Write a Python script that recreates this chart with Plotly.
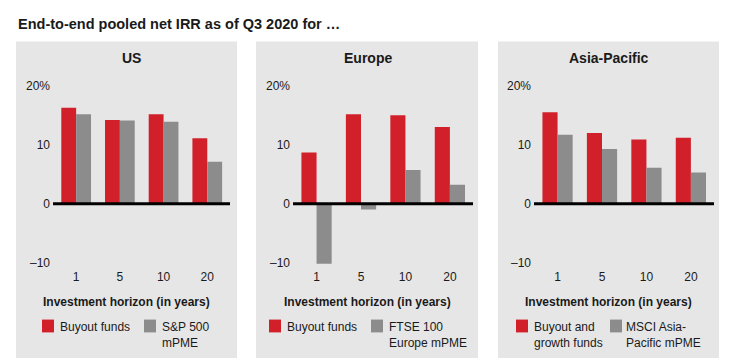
import plotly.graph_objects as go

# ---------------- data ----------------
horizons = ["1", "5", "10", "20"]
regions = ["US", "Europe", "Asia-Pacific"]

us_buyout = [16.3, 14.2, 15.2, 11.1]
us_index = [15.2, 14.1, 13.9, 7.1]
eu_buyout = [8.7, 15.2, 15.0, 13.0]
eu_index = [-10.2, -1.0, 5.7, 3.2]
ap_buyout = [15.5, 12.0, 10.9, 11.2]
ap_index = [11.7, 9.3, 6.1, 5.3]

buyout_names = ["Buyout funds", "Buyout funds", "Buyout and<br>growth funds"]
index_names = ["S&P 500<br>mPME", "FTSE 100<br>Europe mPME", "MSCI Asia-<br>Pacific mPME"]

ytick_vals = [-10, 0, 10, 20]
ytick_text = ["–10", "0", "10", "20%"]

title_text = "End-to-end pooled net IRR as of Q3 2020 for …"
xaxis_title = "Investment horizon (in years)"

# ---------------- style ----------------
W, H = 750, 362
RED = "#D2202A"
GRAY = "#8C8C8C"
PANEL = "#E6E6E6"
TXT = "#1a1a1a"
FONT = "Arial, Liberation Sans, sans-serif"


def px(x):
    return x / W


def py(y):
    return 1 - y / H


panels = [(16, 237), (256, 478), (498, 719)]
plot_x = [(53, 230), (293, 473), (534, 714)]
panel_title_x = [131, 367.5, 608.5]
legend_pos = [(42, 59, 144, 161), (269, 286, 371, 388), (516, 533, 610, 625)]

buyout = [us_buyout, eu_buyout, ap_buyout]
index = [us_index, eu_index, ap_index]

fig = go.Figure()
shapes = []
annotations = []

for i in range(3):
    sfx = "" if i == 0 else str(i + 1)
    xa = "x" + sfx
    ya = "y" + sfx
    fig.add_trace(go.Bar(x=horizons, y=buyout[i], marker_color=RED, marker_line_width=0,
                         name=buyout_names[i], xaxis=xa, yaxis=ya, showlegend=False))
    fig.add_trace(go.Bar(x=horizons, y=index[i], marker_color=GRAY, marker_line_width=0,
                         name=index_names[i], xaxis=xa, yaxis=ya, showlegend=False))

    x0, x1 = plot_x[i]
    fig.update_layout(**{
        "xaxis" + sfx: dict(domain=[px(x0), px(x1)], type="category", range=[-0.53, 3.52],
                            anchor=ya, showgrid=False, zeroline=False, showline=False,
                            ticks="", tickfont=dict(size=12, color=TXT, family=FONT),
                            fixedrange=True),
        "yaxis" + sfx: dict(domain=[py(268.2), py(80.0)], range=[-11, 20.5], anchor=xa,
                            tickvals=ytick_vals, ticktext=ytick_text, showgrid=False,
                            zeroline=False, showline=False, ticks="",
                            tickfont=dict(size=12, color=TXT, family=FONT),
                            ticklabelstandoff=2, fixedrange=True),
    })

    # panel background
    p0, p1 = panels[i]
    shapes.append(dict(type="rect", xref="paper", yref="paper", x0=px(p0), x1=px(p1),
                       y0=py(359), y1=py(38), fillcolor=PANEL, line_width=0, layer="below"))
    # zero baseline
    shapes.append(dict(type="line", xref=xa + " domain", yref=ya, x0=0, x1=1, y0=0, y1=0,
                       line=dict(color="black", width=3), layer="above"))

    # panel title
    annotations.append(dict(text="<b>%s</b>" % regions[i], xref="paper", yref="paper",
                            x=px(panel_title_x[i]), y=py(55), xanchor="center", yanchor="middle",
                            showarrow=False, font=dict(size=14, color=TXT, family=FONT)))
    # axis title
    annotations.append(dict(text="<b>%s</b>" % xaxis_title, xref="paper", yref="paper",
                            x=px((p0 + p1) / 2), y=py(302), xanchor="center", yanchor="middle",
                            showarrow=False, font=dict(size=12, color=TXT, family=FONT)))
    # legend
    rs, rt, gs, gt = legend_pos[i]
    shapes.append(dict(type="rect", xref="paper", yref="paper", x0=px(rs), x1=px(rs + 12),
                       y0=py(333), y1=py(320), fillcolor=RED, line_width=0))
    shapes.append(dict(type="rect", xref="paper", yref="paper", x0=px(gs), x1=px(gs + 12),
                       y0=py(333), y1=py(320), fillcolor=GRAY, line_width=0))
    annotations.append(dict(text=buyout_names[i], xref="paper", yref="paper", x=px(rt), y=py(319),
                            xanchor="left", yanchor="top", align="left", showarrow=False,
                            borderpad=0, font=dict(size=12, color=TXT, family=FONT)))
    annotations.append(dict(text=index_names[i], xref="paper", yref="paper", x=px(gt), y=py(319),
                            xanchor="left", yanchor="top", align="left", showarrow=False,
                            borderpad=0, font=dict(size=12, color=TXT, family=FONT)))

annotations.append(dict(text="<b>%s</b>" % title_text, xref="paper", yref="paper",
                        x=px(16), y=py(20), xanchor="left", yanchor="middle", showarrow=False,
                        font=dict(size=14.5, color=TXT, family=FONT)))

fig.update_layout(
    width=W, height=H, margin=dict(l=0, r=0, t=0, b=0),
    paper_bgcolor="white", plot_bgcolor="rgba(0,0,0,0)",
    barmode="group", bargap=0.32, bargroupgap=0,
    shapes=shapes, annotations=annotations, showlegend=False,
    font=dict(family=FONT, color=TXT),
)

fig.write_html("out.html", config={"displayModeBar": False},
               post_script="document.body.style.margin='0px';document.body.style.padding='0px';")
